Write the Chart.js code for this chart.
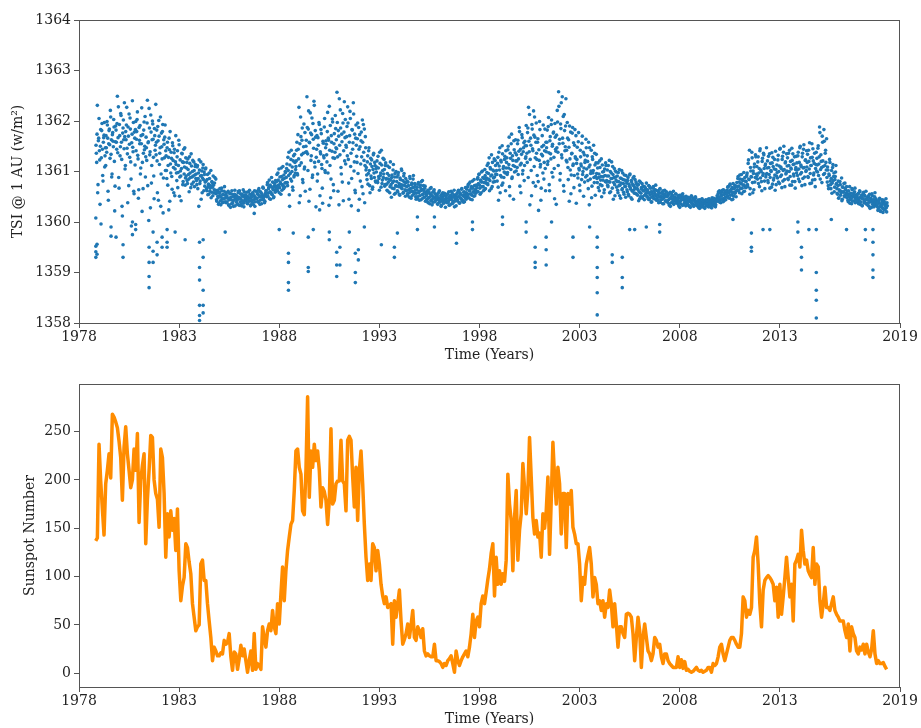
<!DOCTYPE html>
<html>
<head>
<meta charset="utf-8">
<script src="https://cdn.jsdelivr.net/npm/chart.js@4.4.1/dist/chart.umd.min.js"></script>
<style>
  html, body { margin: 0; padding: 0; background: #fff; }
  #wrap { position: relative; width: 921px; height: 728px; overflow: hidden; }
  canvas { position: absolute; left: 0; }
  #tsiChart { top: 0; }
  #sunChart { top: 364px; }
</style>
</head>
<body>
<div id="wrap">
  <canvas id="tsiChart" width="921" height="364"></canvas>
  <canvas id="sunChart" width="921" height="364"></canvas>
</div>
<script>
const xTicks = [1978, 1983, 1988, 1993, 1998, 2003, 2008, 2013, 2019];
const tsiTicks = [1358, 1359, 1360, 1361, 1362, 1363, 1364];
const sunTicks = [0, 50, 100, 150, 200, 250];

// TSI samples, one every 1/30 year from 1978.85 (second set offset by half a step)
const tsiStart = 1978.85;
const tsiStep = 1 / 30;
const tsi1978 = [
  1361.52,1361.18,1362.31,1360.74,1361.66,1361.41,1360.35,1361.83,1361.27,1361.95,1360.92,1361.58,1361.72,1361.09,1361.47,
  1361.71,1361.38,1361.92,1360.61,1361.55,1361.84,1361.26,1362.08,1361.63,1360.95,1361.77,1361.49,1361.88,1360.22,1361.59,
  1361.82,1361.44,1362.49,1361.67,1360.88,1361.93,1361.31,1362.15,1361.58,1360.31,1361.76,1362.02,1361.45,1361.69,1361.12,
  1361.63,1362.27,1361.35,1361.88,1360.72,1361.54,1362.06,1361.19,1359.92,1361.74,1361.48,1361.97,1360.56,1361.66,1361.83,
  1361.41,1361.79,1362.18,1361.25,1360.64,1361.62,1361.91,1361.07,1361.55,1360.21,1361.73,1361.36,1361.98,1361.50,1360.89,
  1361.68,1361.22,1362.41,1361.57,1360.03,1361.86,1361.39,1362.12,1360.77,1361.63,1361.94,1361.28,1360.46,1361.71,1361.52,
  1361.33,1361.82,1360.58,1361.61,1362.01,1361.14,1361.47,1360.31,1361.76,1361.25,1361.93,1360.87,1361.54,1361.68,1361.02,
  1361.31,1360.86,1361.58,1361.12,1360.24,1361.43,1361.79,1360.97,1361.26,1360.65,1361.51,1361.08,1361.37,1360.52,1361.19,
  1361.14,1360.82,1361.41,1360.98,1361.62,1360.51,1361.23,1360.91,1361.06,1361.35,1360.74,1361.18,1360.95,1361.47,1360.87,
  1360.91,1361.18,1360.76,1361.04,1360.85,1361.29,1360.97,1360.68,1361.11,1360.89,1361.22,1360.79,1361.02,1360.93,1361.14,
  1360.95,1360.74,1361.12,1360.86,1360.31,1361.03,1360.81,1361.19,1360.92,1360.58,1361.07,1360.84,1360.99,1360.71,1361.05,
  1360.81,1360.62,1360.94,1360.70,1360.55,1360.86,1360.67,1361.02,1360.59,1360.78,1360.52,1360.73,1360.64,1360.88,1360.57,
  1360.56,1360.41,1360.63,1360.48,1360.37,1360.59,1360.52,1360.34,1360.67,1360.45,1360.55,1360.39,1360.61,1360.47,1360.53,
  1360.38,1360.52,1360.47,1360.61,1360.33,1360.44,1360.57,1360.49,1360.36,1360.55,1360.42,1360.31,1360.50,1360.63,1360.46,
  1360.53,1360.44,1360.35,1360.58,1360.49,1360.62,1360.40,1360.46,1360.32,1360.55,1360.51,1360.37,1360.60,1360.43,1360.48,
  1360.45,1360.59,1360.36,1360.50,1360.42,1360.63,1360.47,1360.34,1360.54,1360.39,1360.57,1360.44,1360.52,1360.31,1360.48,
  1360.61,1360.47,1360.55,1360.39,1360.66,1360.50,1360.43,1360.58,1360.36,1360.53,1360.69,1360.45,1360.51,1360.41,1360.57,
  1360.62,1360.50,1360.78,1360.57,1360.69,1360.46,1360.73,1360.59,1360.88,1360.54,1360.66,1360.48,1360.71,1360.63,1360.82,
  1360.71,1360.94,1360.62,1360.83,1361.05,1360.68,1360.79,1360.55,1360.90,1360.74,1361.10,1360.66,1360.86,1360.77,1360.98,
  1360.88,1361.15,1360.72,1361.02,1361.38,1360.31,1360.96,1361.24,1360.81,1361.09,1360.63,1361.31,1360.92,1361.18,1361.04
];
const tsi1988 = [
  1361.21,1361.58,1360.93,1361.44,1362.27,1361.12,1360.52,1361.69,1361.33,1361.86,1360.78,1361.49,1361.05,1361.77,1361.38,
  1361.62,1362.48,1361.35,1361.84,1360.41,1361.57,1362.16,1361.22,1361.73,1360.88,1361.95,1361.46,1362.31,1361.09,1361.68,
  1361.28,1361.71,1360.95,1361.52,1361.97,1360.24,1361.39,1361.83,1361.14,1360.67,1361.60,1361.31,1361.88,1361.02,1361.47,
  1361.54,1361.19,1362.17,1361.66,1360.33,1361.42,1361.91,1360.85,1361.58,1362.04,1361.27,1360.62,1361.75,1361.38,1361.85,
  1361.63,1362.57,1361.29,1361.81,1360.34,1361.52,1362.22,1361.08,1361.74,1360.79,1361.96,1361.41,1362.38,1361.67,1361.15,
  1361.48,1361.89,1362.28,1361.24,1360.45,1361.71,1362.05,1361.36,1360.86,1361.82,1361.57,1362.14,1361.19,1360.63,1361.66,
  1361.52,1361.18,1361.96,1360.23,1361.44,1361.73,1360.81,1361.61,1361.29,1362.02,1360.56,1361.38,1361.84,1361.12,1361.47,
  1361.08,1360.84,1361.31,1360.96,1361.47,1360.72,1361.15,1360.91,1361.23,1360.65,1361.04,1361.36,1360.88,1361.12,1360.79,
  1360.99,1361.21,1360.78,1361.07,1360.86,1361.38,1360.92,1360.69,1361.13,1360.83,1361.26,1360.95,1361.04,1360.74,1361.17,
  1360.86,1360.63,1361.11,1360.79,1360.92,1360.58,1361.19,1360.74,1360.88,1360.67,1361.03,1360.81,1360.55,1360.96,1360.72,
  1360.71,1360.89,1360.60,1360.98,1360.76,1360.53,1360.84,1360.68,1361.02,1360.73,1360.57,1360.91,1360.79,1360.64,1360.86,
  1360.62,1360.81,1360.53,1360.72,1360.58,1360.90,1360.66,1360.47,1360.77,1360.61,1360.85,1360.55,1360.69,1360.74,1360.50,
  1360.57,1360.69,1360.46,1360.78,1360.61,1360.52,1360.73,1360.44,1360.65,1360.82,1360.55,1360.63,1360.49,1360.71,1360.59,
  1360.52,1360.41,1360.63,1360.47,1360.58,1360.36,1360.55,1360.68,1360.44,1360.51,1360.39,1360.61,1360.48,1360.56,1360.43,
  1360.44,1360.53,1360.35,1360.48,1360.60,1360.39,1360.46,1360.31,1360.55,1360.42,1360.50,1360.37,1360.57,1360.45,1360.40,
  1360.47,1360.38,1360.56,1360.42,1360.33,1360.51,1360.45,1360.61,1360.36,1360.49,1360.41,1360.54,1360.30,1360.46,1360.52,
  1360.48,1360.57,1360.41,1360.63,1360.50,1360.38,1360.55,1360.46,1360.66,1360.43,1360.52,1360.59,1360.40,1360.54,1360.47,
  1360.58,1360.49,1360.70,1360.55,1360.76,1360.62,1360.45,1360.67,1360.53,1360.81,1360.60,1360.51,1360.72,1360.64,1360.57,
  1360.72,1360.61,1360.88,1360.76,1360.95,1360.67,1360.83,1360.58,1360.79,1361.01,1360.70,1360.86,1360.64,1360.92,1360.77,
  1360.87,1361.12,1360.74,1360.96,1361.27,1360.82,1361.05,1360.66,1360.93,1361.18,1360.79,1361.01,1360.89,1361.22,1360.95
];
const tsi1998 = [
  1361.02,1360.81,1361.28,1360.43,1361.11,1361.47,1360.92,1361.19,1360.73,1361.35,1361.06,1360.88,1361.24,1360.97,1361.41,
  1361.18,1360.94,1361.43,1361.07,1361.68,1360.52,1361.26,1361.55,1360.86,1361.31,1361.12,1361.61,1360.99,1361.37,1361.21,
  1361.33,1361.08,1361.62,1361.25,1361.87,1360.71,1361.44,1361.16,1361.73,1360.95,1361.39,1361.57,1361.12,1361.51,1361.29,
  1361.51,1361.18,1361.86,1362.27,1361.39,1360.34,1361.66,1361.02,1361.93,1361.45,1360.78,1361.72,1362.08,1361.27,1361.58,
  1361.36,1360.92,1361.65,1360.23,1361.22,1361.83,1361.14,1360.67,1361.49,1361.31,1361.92,1360.85,1361.41,1361.06,1361.58,
  1361.47,1361.82,1361.20,1362.07,1360.74,1361.61,1361.35,1361.93,1360.98,1361.54,1361.76,1361.28,1360.46,1361.68,1361.40,
  1361.72,1362.21,1361.38,1362.58,1361.55,1360.83,1361.94,1362.36,1361.27,1361.66,1362.09,1360.61,1361.81,1361.49,1362.44,
  1361.42,1361.97,1361.08,1361.63,1360.41,1361.25,1361.78,1360.93,1361.36,1361.87,1361.15,1360.68,1361.52,1361.29,1361.71,
  1361.16,1361.48,1360.87,1361.77,1361.03,1360.62,1361.29,1361.11,1361.56,1360.94,1361.38,1361.07,1360.79,1361.22,1361.64,
  1361.05,1361.31,1360.82,1361.58,1360.34,1361.13,1360.96,1361.42,1360.71,1361.24,1361.02,1360.88,1361.36,1360.53,1361.17,
  1360.96,1360.78,1361.17,1360.88,1360.62,1361.08,1360.83,1361.25,1360.72,1360.99,1360.90,1360.58,1361.05,1360.80,1361.12,
  1360.82,1361.03,1360.70,1360.91,1361.22,1360.79,1360.60,1360.97,1360.86,1361.10,1360.45,1360.88,1360.74,1361.01,1360.83,
  1360.69,1360.91,1360.58,1360.80,1361.04,1360.73,1360.47,1360.86,1360.64,1360.97,1360.76,1360.55,1360.83,1360.70,1360.92,
  1360.77,1360.60,1360.88,1360.52,1360.71,1360.95,1360.65,1360.82,1360.45,1360.74,1360.63,1360.90,1360.68,1360.57,1360.79,
  1360.55,1360.73,1360.64,1360.42,1360.81,1360.59,1360.50,1360.68,1360.76,1360.47,1360.62,1360.70,1360.53,1360.66,1360.58,
  1360.63,1360.49,1360.58,1360.72,1360.44,1360.54,1360.67,1360.39,1360.60,1360.51,1360.70,1360.46,1360.57,1360.64,1360.52,
  1360.47,1360.62,1360.53,1360.38,1360.57,1360.66,1360.44,1360.50,1360.59,1360.36,1360.55,1360.48,1360.63,1360.42,1360.52,
  1360.50,1360.40,1360.56,1360.44,1360.33,1360.59,1360.47,1360.38,1360.53,1360.45,1360.61,1360.36,1360.49,1360.42,1360.55,
  1360.39,1360.48,1360.44,1360.32,1360.53,1360.41,1360.36,1360.50,1360.45,1360.56,1360.34,1360.43,1360.47,1360.38,1360.51,
  1360.44,1360.36,1360.49,1360.41,1360.31,1360.46,1360.39,1360.52,1360.35,1360.43,1360.47,1360.33,1360.42,1360.50,1360.38
];
const tsi2008 = [
  1360.33,1360.41,1360.37,1360.28,1360.44,1360.35,1360.30,1360.39,1360.46,1360.32,1360.36,1360.42,1360.27,1360.38,1360.34,
  1360.40,1360.34,1360.45,1360.31,1360.38,1360.43,1360.29,1360.36,1360.48,1360.39,1360.33,1360.42,1360.37,1360.30,1360.44,
  1360.47,1360.41,1360.56,1360.50,1360.62,1360.44,1360.38,1360.53,1360.59,1360.46,1360.64,1360.42,1360.55,1360.49,1360.58,
  1360.63,1360.52,1360.70,1360.58,1360.47,1360.75,1360.61,1360.54,1360.68,1360.45,1360.66,1360.57,1360.72,1360.60,1360.50,
  1360.78,1360.64,1360.90,1360.71,1360.58,1360.85,1360.76,1360.94,1360.67,1360.82,1360.60,1360.73,1360.88,1360.69,1360.80,
  1360.93,1360.74,1361.16,1360.85,1361.42,1360.66,1361.01,1360.89,1361.27,1360.58,1360.96,1361.09,1360.79,1361.33,1360.87,
  1361.10,1360.85,1361.29,1360.97,1360.70,1361.45,1361.03,1360.80,1361.20,1360.92,1361.36,1361.06,1360.66,1361.15,1360.94,
  1360.96,1361.21,1360.78,1361.08,1361.35,1360.88,1361.02,1360.69,1361.17,1361.28,1360.83,1361.05,1360.93,1361.40,1360.74,
  1361.13,1360.87,1361.32,1361.00,1360.76,1361.46,1361.09,1360.93,1361.24,1360.81,1361.38,1361.04,1360.70,1361.19,1360.97,
  1361.01,1361.27,1360.84,1361.12,1361.42,1360.90,1361.07,1360.73,1361.22,1361.35,1360.95,1361.15,1360.80,1361.04,1361.30,
  1361.17,1360.92,1361.38,1361.05,1360.80,1361.50,1361.13,1360.98,1361.29,1360.86,1361.44,1361.08,1360.74,1361.23,1361.02,
  1361.09,1361.34,1360.88,1361.20,1361.57,1360.96,1361.12,1360.77,1361.28,1361.45,1360.93,1361.16,1360.84,1361.06,1361.38,
  1361.26,1360.99,1361.51,1361.15,1361.88,1360.85,1361.33,1361.08,1361.70,1361.21,1360.94,1361.60,1361.12,1361.42,1361.03,
  1360.88,1361.09,1360.72,1360.95,1361.24,1360.81,1360.66,1361.02,1360.77,1361.14,1360.90,1360.60,1360.84,1360.99,1360.75,
  1360.66,1360.55,1360.81,1360.48,1360.62,1360.74,1360.58,1360.87,1360.45,1360.69,1360.60,1360.52,1360.77,1360.64,1360.57,
  1360.48,1360.61,1360.40,1360.55,1360.70,1360.44,1360.52,1360.36,1360.64,1360.50,1360.57,1360.42,1360.67,1360.47,1360.54,
  1360.50,1360.39,1360.57,1360.44,1360.62,1360.35,1360.48,1360.53,1360.32,1360.46,1360.59,1360.41,1360.51,1360.37,1360.45,
  1360.37,1360.49,1360.43,1360.31,1360.55,1360.40,1360.46,1360.29,1360.52,1360.38,1360.44,1360.34,1360.58,1360.41,1360.36,
  1360.31,1360.42,1360.26,1360.37,1360.47,1360.22,1360.34,1360.29,1360.44,1360.19,1360.36,1360.40,1360.24,1360.33,1360.28,1360.38
];
const tsi1978b = [
  1361.36,1361.74,1360.58,1361.61,1362.05,1361.23,1361.50,1359.96,1361.81,1361.44,1360.81,1361.67,1361.97,1361.31,1361.12,
  1361.47,1361.99,1361.66,1360.43,1361.81,1361.53,1362.21,1361.34,1360.89,1361.73,1361.60,1362.03,1361.20,1360.71,1361.90,
  1361.58,1361.95,1361.37,1362.28,1360.67,1361.71,1361.49,1362.11,1361.24,1360.12,1361.86,1361.63,1362.36,1361.05,1361.79,
  1361.92,1361.46,1360.38,1361.70,1362.14,1361.28,1361.84,1360.85,1361.57,1362.40,1361.39,1360.61,1361.78,1361.13,1361.99,
  1361.64,1362.03,1361.32,1360.47,1361.87,1361.55,1360.95,1361.71,1362.26,1361.18,1360.66,1361.82,1361.43,1362.09,1361.29,
  1361.47,1361.96,1360.72,1361.59,1362.25,1361.33,1360.28,1361.78,1361.12,1362.00,1361.64,1360.91,1361.85,1361.42,1362.33,
  1361.58,1361.21,1361.89,1360.43,1361.70,1361.36,1362.08,1360.95,1361.49,1361.79,1360.18,1361.63,1361.27,1361.92,1361.41,
  1361.02,1361.47,1360.73,1361.28,1361.66,1360.41,1361.15,1361.38,1360.90,1361.57,1361.22,1360.58,1361.44,1361.05,1361.71,
  1360.97,1361.29,1360.68,1361.12,1361.53,1360.89,1361.01,1360.42,1361.36,1361.19,1360.80,1361.44,1361.09,1360.73,1361.27,
  1361.07,1360.82,1361.25,1360.94,1360.60,1361.16,1360.88,1361.35,1360.75,1361.00,1360.91,1361.19,1360.70,1361.10,1360.86,
  1360.82,1361.09,1360.66,1360.97,1361.23,1360.76,1360.91,1360.45,1361.01,1360.87,1361.14,1360.62,1360.94,1360.79,1361.07,
  1360.66,1360.84,1360.54,1360.75,1360.97,1360.61,1360.72,1360.48,1360.80,1360.69,1360.91,1360.58,1360.77,1360.63,1360.85,
  1360.44,1360.60,1360.51,1360.35,1360.57,1360.66,1360.42,1360.49,1360.62,1360.38,1360.54,1360.46,1360.70,1360.40,1360.58,
  1360.51,1360.40,1360.59,1360.34,1360.47,1360.56,1360.29,1360.44,1360.62,1360.37,1360.50,1360.43,1360.55,1360.32,1360.48,
  1360.39,1360.50,1360.45,1360.61,1360.33,1360.47,1360.56,1360.36,1360.52,1360.42,1360.64,1360.30,1360.49,1360.54,1360.41,
  1360.52,1360.37,1360.46,1360.60,1360.41,1360.55,1360.32,1360.49,1360.43,1360.58,1360.35,1360.51,1360.62,1360.40,1360.47,
  1360.46,1360.58,1360.41,1360.63,1360.52,1360.35,1360.60,1360.49,1360.56,1360.44,1360.67,1360.50,1360.38,1360.54,1360.62,
  1360.57,1360.74,1360.51,1360.66,1360.83,1360.60,1360.45,1360.70,1360.55,1360.79,1360.64,1360.50,1360.76,1360.59,1360.68,
  1360.80,1360.66,1360.97,1360.73,1360.58,1360.89,1360.76,1361.07,1360.63,1360.84,1360.71,1360.93,1360.69,1361.00,1360.78,
  1361.06,1360.78,1361.28,1360.92,1360.54,1361.13,1360.85,1361.42,1361.00,1360.69,1361.21,1360.89,1361.34,1360.97,1361.10
];
const tsi1988b = [
  1361.42,1360.96,1361.73,1361.25,1360.38,1361.55,1362.08,1361.17,1361.62,1360.84,1361.36,1361.94,1361.09,1360.61,1361.50,
  1361.39,1361.87,1361.02,1362.20,1361.58,1360.65,1361.76,1361.31,1362.06,1360.93,1361.64,1362.39,1361.18,1361.81,1360.30,
  1361.44,1360.81,1361.67,1361.20,1361.93,1360.52,1361.35,1361.75,1361.06,1360.37,1361.56,1361.27,1362.05,1360.98,1361.61,
  1361.33,1361.79,1360.97,1361.62,1362.29,1361.12,1360.48,1361.71,1361.40,1361.98,1360.74,1361.55,1361.26,1362.11,1361.47,
  1361.45,1361.97,1360.61,1361.70,1362.44,1361.33,1361.86,1360.95,1361.59,1362.15,1360.42,1361.78,1361.21,1362.03,1361.52,
  1361.69,1361.31,1361.96,1360.77,1361.58,1362.19,1361.10,1360.32,1361.83,1361.44,1362.36,1361.01,1361.74,1360.58,1361.92,
  1361.30,1361.65,1360.96,1361.87,1360.45,1361.49,1361.15,1361.78,1360.70,1361.58,1361.93,1361.22,1360.38,1361.69,1361.03,
  1360.93,1361.19,1360.75,1361.41,1361.02,1360.58,1361.26,1360.86,1361.10,1360.69,1361.33,1360.97,1361.18,1360.81,1361.06,
  1361.09,1360.81,1361.30,1360.90,1360.63,1361.16,1360.97,1361.42,1360.76,1361.02,1360.88,1361.24,1360.71,1361.12,1360.85,
  1360.75,1360.96,1360.61,1360.85,1361.08,1360.70,1360.83,1360.49,1360.93,1360.78,1361.14,1360.66,1360.89,1360.57,1361.00,
  1360.80,1360.62,1360.93,1360.70,1360.55,1360.87,1360.74,1361.05,1360.66,1360.82,1360.59,1360.96,1360.72,1360.51,1360.78,
  1360.70,1360.56,1360.79,1360.64,1360.49,1360.86,1360.60,1360.74,1360.52,1360.68,1360.92,1360.58,1360.76,1360.63,1360.45,
  1360.64,1360.50,1360.75,1360.58,1360.43,1360.69,1360.62,1360.80,1360.54,1360.47,1360.72,1360.60,1360.67,1360.41,1360.56,
  1360.45,1360.57,1360.38,1360.60,1360.49,1360.66,1360.42,1360.53,1360.34,1360.59,1360.47,1360.64,1360.40,1360.55,1360.50,
  1360.49,1360.36,1360.57,1360.43,1360.62,1360.40,1360.52,1360.33,1360.47,1360.58,1360.38,1360.54,1360.44,1360.29,1360.51,
  1360.42,1360.55,1360.39,1360.60,1360.47,1360.34,1360.53,1360.44,1360.58,1360.37,1360.50,1360.63,1360.41,1360.48,1360.32,
  1360.55,1360.44,1360.61,1360.50,1360.37,1360.58,1360.47,1360.65,1360.42,1360.53,1360.39,1360.60,1360.49,1360.68,1360.45,
  1360.65,1360.53,1360.74,1360.48,1360.62,1360.79,1360.56,1360.70,1360.44,1360.67,1360.59,1360.84,1360.52,1360.63,1360.73,
  1360.68,1360.85,1360.60,1360.94,1360.73,1360.55,1360.81,1360.99,1360.70,1360.88,1360.62,1360.78,1361.04,1360.66,1360.83,
  1360.98,1360.76,1361.16,1360.85,1360.62,1361.08,1360.91,1361.33,1360.70,1361.03,1360.87,1361.25,1360.80,1361.12,1360.94
];
const tsi1998b = [
  1360.94,1361.16,1360.69,1361.38,1361.03,1360.58,1361.22,1360.89,1361.51,1360.77,1361.10,1360.99,1361.30,1360.62,1361.07,
  1361.27,1360.98,1361.50,1361.14,1360.70,1361.36,1361.04,1361.74,1360.89,1361.22,1360.45,1361.43,1361.10,1361.63,1361.01,
  1361.21,1361.55,1360.94,1361.40,1361.79,1361.13,1360.58,1361.34,1361.67,1361.02,1361.47,1360.82,1361.60,1361.26,1361.91,
  1361.36,1361.77,1360.88,1361.60,1362.13,1361.24,1361.52,1360.52,1361.84,1361.41,1362.20,1361.10,1361.68,1360.71,1361.96,
  1361.24,1361.58,1360.80,1361.43,1361.99,1361.09,1360.43,1361.34,1361.71,1360.97,1361.52,1361.18,1361.84,1360.62,1361.39,
  1361.58,1361.14,1361.89,1361.37,1360.62,1361.69,1361.25,1362.02,1361.50,1360.89,1361.78,1361.06,1361.95,1361.44,1360.35,
  1361.47,1361.98,1361.12,1362.29,1361.64,1360.96,1361.85,1361.33,1362.48,1361.56,1360.72,1362.13,1361.41,1361.90,1361.22,
  1361.19,1361.66,1360.84,1361.48,1361.90,1361.03,1360.56,1361.35,1361.76,1361.12,1361.57,1360.92,1361.83,1361.26,1360.37,
  1361.24,1360.95,1361.59,1361.06,1360.73,1361.42,1361.15,1360.84,1361.70,1361.00,1360.51,1361.33,1361.18,1360.89,1361.47,
  1360.92,1361.20,1360.66,1361.09,1361.47,1360.85,1361.01,1360.48,1361.29,1360.97,1361.52,1360.78,1361.13,1360.90,1361.34,
  1360.86,1361.07,1360.68,1360.95,1361.21,1360.74,1360.90,1360.50,1361.13,1360.83,1361.00,1360.64,1360.92,1361.17,1360.79,
  1360.91,1360.73,1361.12,1360.80,1360.58,1361.00,1360.86,1361.19,1360.67,1360.94,1360.78,1361.06,1360.52,1360.89,1360.99,
  1360.80,1360.63,1360.98,1360.72,1360.52,1360.87,1360.77,1361.02,1360.66,1360.84,1360.59,1360.93,1360.71,1360.49,1360.82,
  1360.64,1360.82,1360.55,1360.75,1360.93,1360.68,1360.48,1360.79,1360.61,1360.87,1360.72,1360.57,1360.84,1360.66,1360.76,
  1360.67,1360.53,1360.74,1360.60,1360.46,1360.79,1360.57,1360.65,1360.50,1360.71,1360.62,1360.44,1360.69,1360.55,1360.77,
  1360.51,1360.64,1360.45,1360.58,1360.70,1360.48,1360.60,1360.40,1360.56,1360.67,1360.47,1360.62,1360.53,1360.73,1360.43,
  1360.54,1360.43,1360.60,1360.49,1360.65,1360.39,1360.52,1360.58,1360.45,1360.62,1360.36,1360.51,1360.56,1360.41,1360.60,
  1360.42,1360.51,1360.37,1360.55,1360.46,1360.31,1360.49,1360.58,1360.40,1360.52,1360.35,1360.47,1360.43,1360.56,1360.38,
  1360.46,1360.36,1360.51,1360.40,1360.29,1360.48,1360.43,1360.54,1360.33,1360.45,1360.50,1360.38,1360.47,1360.32,1360.42,
  1360.37,1360.45,1360.33,1360.48,1360.42,1360.29,1360.40,1360.50,1360.36,1360.44,1360.31,1360.46,1360.39,1360.47,1360.34
];
const tsi2008b = [
  1360.38,1360.31,1360.43,1360.35,1360.27,1360.40,1360.34,1360.45,1360.30,1360.37,1360.42,1360.29,1360.36,1360.44,1360.32,
  1360.35,1360.42,1360.30,1360.46,1360.38,1360.33,1360.41,1360.28,1360.44,1360.36,1360.47,1360.32,1360.39,1360.34,1360.43,
  1360.52,1360.43,1360.60,1360.48,1360.39,1360.57,1360.51,1360.45,1360.63,1360.40,1360.54,1360.47,1360.59,1360.44,1360.61,
  1360.56,1360.69,1360.48,1360.62,1360.73,1360.53,1360.65,1360.44,1360.59,1360.76,1360.51,1360.67,1360.57,1360.71,1360.62,
  1360.70,1360.86,1360.62,1360.79,1360.93,1360.66,1360.77,1360.56,1360.84,1360.73,1360.98,1360.61,1360.81,1360.68,1360.90,
  1360.97,1360.70,1361.23,1360.84,1360.55,1361.08,1360.90,1361.38,1360.78,1361.01,1360.64,1361.15,1360.88,1361.29,1360.95,
  1360.92,1361.19,1360.76,1361.06,1361.41,1360.87,1361.00,1360.62,1361.26,1360.96,1361.33,1360.81,1361.12,1360.89,1361.47,
  1361.07,1360.82,1361.30,1360.94,1360.67,1361.16,1361.00,1361.37,1360.75,1361.10,1360.87,1361.24,1360.63,1361.04,1360.91,
  1360.98,1361.23,1360.79,1361.11,1361.44,1360.90,1361.06,1360.68,1361.30,1361.02,1361.50,1360.84,1361.17,1360.95,1361.35,
  1361.11,1360.86,1361.36,1361.00,1360.73,1361.20,1361.05,1361.46,1360.80,1361.14,1360.91,1361.29,1360.67,1361.08,1360.97,
  1361.03,1361.31,1360.85,1361.18,1361.47,1360.95,1361.10,1360.72,1361.36,1361.07,1361.53,1360.89,1361.22,1361.00,1361.41,
  1361.18,1360.90,1361.42,1361.05,1360.76,1361.27,1361.12,1361.55,1360.83,1361.21,1360.97,1361.36,1360.70,1361.14,1361.01,
  1361.13,1361.46,1360.92,1361.29,1361.77,1361.04,1361.20,1360.78,1361.58,1361.10,1361.83,1360.96,1361.36,1361.18,1361.65,
  1360.79,1361.03,1360.66,1360.92,1361.18,1360.74,1360.86,1360.57,1361.08,1360.82,1360.97,1360.69,1360.90,1361.12,1360.76,
  1360.57,1360.72,1360.47,1360.64,1360.80,1360.53,1360.61,1360.42,1360.69,1360.59,1360.76,1360.50,1360.66,1360.55,1360.70,
  1360.53,1360.43,1360.62,1360.49,1360.37,1360.57,1360.46,1360.66,1360.41,1360.55,1360.50,1360.60,1360.38,1360.52,1360.45,
  1360.42,1360.55,1360.36,1360.48,1360.60,1360.40,1360.51,1360.33,1360.46,1360.57,1360.38,1360.53,1360.44,1360.61,1360.35,
  1360.45,1360.33,1360.52,1360.39,1360.27,1360.47,1360.41,1360.56,1360.35,1360.43,1360.30,1360.50,1360.38,1360.46,1360.32,
  1360.36,1360.23,1360.41,1360.30,1360.45,1360.21,1360.33,1360.39,1360.27,1360.43,1360.25,1360.35,1360.31,1360.46,1360.20,1360.32
];

// low-irradiance days (sunspot passages)
const dipYears = [
  1978.84,1978.84,1978.84,1978.84,1978.90,1978.90,1979.60,1979.60,1979.85,1980.20,1980.20,1980.67,1980.67,1980.83,1980.83,
  1981.50,1981.50,1981.50,1981.50,1981.70,1981.70,1981.70,1981.90,1981.90,1982.15,1982.15,1982.40,1982.40,1982.40,1982.80,1983.30,
  1984.02,1984.02,1984.02,1984.02,1984.02,1984.02,1984.20,1984.20,1984.20,1984.20,1984.20,1985.30,1986.75,1988.00,
  1988.46,1988.46,1988.46,1988.46,1988.70,1989.45,1989.45,1989.45,1989.70,1990.50,1990.50,1990.87,1990.87,1990.87,
  1991.03,1991.03,1991.50,1991.80,1991.80,1991.80,1991.95,1991.95,1992.25,1993.10,1993.75,1993.75,1993.90,
  1994.90,1994.90,1995.75,1995.75,1996.85,1996.85,1997.65,1997.65,
  1999.15,1999.15,2000.33,2000.33,2000.78,2000.78,2000.78,2001.33,2001.33,2001.33,2001.60,2002.67,2002.67,2003.50,
  2003.88,2003.88,2003.88,2003.88,2003.88,2003.88,2004.63,2004.63,2005.13,2005.13,2005.13,2005.50,2005.75,2006.33,2007.00,2007.00,
  2010.66,2011.58,2011.58,2011.58,2012.16,2012.50,2013.90,2013.90,2014.08,2014.08,2014.08,2014.45,
  2014.82,2014.82,2014.82,2014.82,2014.82,2015.57,2016.33,2017.27,2017.27,2017.65,2017.65,2017.65,2017.65,2017.65
];
const dipValues = [
  1359.52,1359.41,1359.30,1360.08,1359.56,1359.36,1359.90,1359.72,1359.70,1359.55,1359.30,1360.00,1359.75,1359.95,1359.85,
  1359.50,1359.20,1358.92,1358.70,1359.80,1359.42,1359.20,1359.60,1359.35,1359.70,1359.50,1359.85,1359.60,1359.50,1359.80,1359.65,
  1359.60,1359.10,1358.85,1358.35,1358.15,1358.05,1359.65,1359.30,1358.65,1358.35,1358.20,1359.80,1360.17,1359.85,
  1359.38,1359.20,1358.80,1358.65,1359.78,1359.70,1359.10,1359.02,1359.85,1359.80,1359.65,1359.40,1359.15,1358.92,
  1359.50,1359.15,1359.80,1359.38,1359.00,1358.80,1359.45,1359.25,1359.90,1359.55,1359.50,1359.30,1359.78,
  1360.10,1359.85,1360.10,1359.90,1359.78,1359.58,1360.00,1359.85,
  1360.10,1359.95,1360.00,1359.80,1359.50,1359.20,1359.10,1359.70,1359.45,1359.15,1360.00,1359.70,1359.30,1359.90,
  1359.70,1359.50,1359.10,1358.90,1358.60,1358.16,1359.35,1359.20,1359.30,1358.90,1358.70,1359.85,1359.85,1359.90,1359.95,1359.80,
  1360.05,1359.78,1359.50,1359.42,1359.85,1359.85,1360.00,1359.80,1359.50,1359.30,1359.05,1359.85,
  1359.85,1359.00,1358.65,1358.45,1358.10,1360.05,1359.85,1359.85,1359.65,1359.85,1359.60,1359.35,1359.05,1358.90
];

// monthly sunspot number, from Nov 1978
const sunStartYear = 1978;
const sunStartMonth = 10;
const sunspotMonthly = [
  137, 140,
  237, 199, 170, 143, 196, 210, 227, 202, 268, 265, 260, 254,
  240, 223, 179, 234, 255, 227, 210, 192, 200, 232, 210, 248,
  156, 199, 215, 227, 134, 180, 210, 246, 244, 200, 186, 180,
  151, 232, 223, 186, 120, 165, 141, 168, 148, 160, 127, 170,
  106, 75, 90, 99, 134, 130, 115, 103, 72, 58, 44, 48,
  50, 113, 117, 96, 96, 72, 54, 37, 13, 27, 23, 18,
  18, 21, 20, 34, 30, 32, 41, 17, 3, 22, 20, 4,
  15, 29, 18, 25, 13, 1, 13, 23, 3, 41, 4, 10,
  8, 4, 48, 37, 27, 44, 51, 44, 65, 48, 41, 72,
  51, 82, 110, 75, 106, 127, 141, 154, 158, 189, 230, 232,
  213, 206, 168, 164, 210, 286, 182, 230, 213, 237, 220, 230,
  210, 172, 192, 188, 179, 154, 179, 253, 175, 179, 196, 199,
  199, 241, 199, 196, 168, 241, 245, 241, 203, 172, 213, 158,
  210, 230, 196, 154, 120, 96, 113, 96, 134, 130, 106, 127,
  113, 92, 80, 72, 79, 68, 70, 72, 30, 75, 58, 72,
  86, 54, 30, 35, 41, 51, 37, 50, 65, 37, 34, 48,
  44, 37, 46, 23, 18, 20, 18, 17, 17, 30, 13, 13,
  12, 10, 6, 10, 8, 13, 15, 18, 10, 1, 23, 13,
  8, 13, 17, 20, 23, 17, 27, 41, 61, 37, 54, 58,
  48, 72, 80, 72, 84, 97, 108, 124, 134, 80, 120, 92,
  106, 92, 103, 95, 117, 206, 175, 158, 106, 161, 189, 117,
  148, 165, 217, 192, 165, 189, 244, 203, 161, 144, 158, 141,
  145, 120, 165, 150, 168, 203, 123, 179, 239, 203, 175, 213,
  196, 144, 186, 186, 130, 186, 175, 189, 151, 144, 134, 134,
  113, 75, 99, 92, 113, 122, 130, 113, 79, 99, 92, 72,
  75, 65, 75, 58, 72, 68, 86, 72, 48, 72, 51, 27,
  48, 48, 41, 37, 61, 62, 61, 58, 41, 13, 37, 58,
  44, 6, 37, 51, 37, 23, 20, 13, 20, 37, 34, 27,
  30, 17, 10, 20, 20, 13, 10, 8, 6, 6, 6, 17,
  6, 14, 5, 12, 3, 4, 2, 1, 2, 4, 6, 3,
  2, 3, 1, 2, 3, 6, 6, 1, 10, 8, 10, 17,
  27, 30, 20, 13, 20, 27, 34, 37, 37, 34, 30, 27,
  27, 41, 79, 75, 58, 65, 61, 68, 120, 127, 141, 113,
  72, 48, 86, 96, 99, 101, 99, 96, 92, 75, 89, 58,
  92, 61, 79, 99, 120, 99, 79, 92, 54, 113, 117, 123,
  110, 148, 127, 113, 117, 106, 102, 99, 130, 92, 113, 110,
  75, 58, 72, 89, 68, 68, 65, 72, 79, 65, 61, 58,
  54, 54, 54, 44, 37, 51, 23, 48, 41, 37, 23, 20,
  27, 24, 30, 20, 30, 22, 17, 25, 44, 20, 10, 13,
  10, 10, 11, 7, 4
];

const axisFont = { family: 'DejaVu Serif', size: 14 };
const textColor = '#222';
const frameColor = '#555';

const framePlugin = {
  id: 'frame',
  afterDraw(chart) {
    const { ctx, chartArea: a } = chart;
    ctx.save();
    ctx.strokeStyle = frameColor;
    ctx.lineWidth = 1;
    ctx.strokeRect(Math.round(a.left) + 0.5, Math.round(a.top) + 0.5,
      Math.round(a.right - a.left) - 1, Math.round(a.bottom - a.top));
    ctx.restore();
  }
};

function tsiPoints() {
  const first = tsi1978.concat(tsi1988, tsi1998, tsi2008);
  const second = tsi1978b.concat(tsi1988b, tsi1998b, tsi2008b);
  const pts = first.map((v, i) => ({ x: tsiStart + i * tsiStep, y: v }));
  second.forEach((v, i) => pts.push({ x: tsiStart + (i + 0.5) * tsiStep, y: v }));
  dipYears.forEach((yr, i) => pts.push({ x: yr, y: dipValues[i] }));
  return pts;
}

function sunPoints() {
  return sunspotMonthly.map((v, i) => ({ x: sunStartYear + (sunStartMonth + i) / 12, y: v }));
}

function xAxis() {
  return {
    type: 'linear',
    min: 1978,
    max: 2019,
    afterBuildTicks: axis => { axis.ticks = xTicks.map(v => ({ value: v })); },
    afterFit: axis => { axis.height = 41; },
    grid: { drawOnChartArea: false, drawTicks: true, tickLength: 5, color: frameColor },
    border: { display: false },
    ticks: { font: axisFont, color: textColor, padding: 1, autoSkip: false, maxRotation: 0, callback: v => String(v) },
    title: { display: true, text: 'Time (Years)', font: axisFont, color: textColor, padding: { top: 0, bottom: 0 } }
  };
}

function yAxis(min, max, ticks, title, titleOffset) {
  return {
    type: 'linear',
    min: min,
    max: max,
    afterBuildTicks: axis => { axis.ticks = ticks.map(v => ({ value: v })); },
    afterFit: axis => { axis.width = 79; },
    grid: { drawOnChartArea: false, drawTicks: true, tickLength: 5, color: frameColor },
    border: { display: false },
    ticks: { font: axisFont, color: textColor, padding: 3, callback: v => String(v) },
    title: { display: true, text: title, font: axisFont, color: textColor, padding: { top: titleOffset, bottom: 0 } }
  };
}

function createTsiChart(ctx) {
  return new Chart(ctx, {
    type: 'scatter',
    data: {
      datasets: [{
        data: tsiPoints(),
        backgroundColor: '#1f77b4',
        borderWidth: 0,
        pointRadius: 1.8
      }]
    },
    options: {
      responsive: false,
      animation: false,
      devicePixelRatio: 1,
      layout: { padding: { left: 0, right: 21, top: 20, bottom: 0 } },
      scales: {
        x: xAxis(),
        y: yAxis(1358, 1364, tsiTicks, 'TSI @ 1 AU (w/m\u00b2)', 9.5)
      },
      plugins: { legend: { display: false }, tooltip: { enabled: false } }
    },
    plugins: [framePlugin]
  });
}

function createSunChart(ctx) {
  return new Chart(ctx, {
    type: 'line',
    data: {
      datasets: [{
        data: sunPoints(),
        borderColor: '#ff8c00',
        borderWidth: 3.5,
        borderJoinStyle: 'round',
        pointRadius: 0,
        tension: 0,
        fill: false
      }]
    },
    options: {
      responsive: false,
      animation: false,
      devicePixelRatio: 1,
      layout: { padding: { left: 0, right: 21, top: 20, bottom: 0 } },
      scales: {
        x: xAxis(),
        y: yAxis(-14.25, 299.25, sunTicks, 'Sunspot Number', 21.5)
      },
      plugins: { legend: { display: false }, tooltip: { enabled: false } }
    },
    plugins: [framePlugin]
  });
}

document.addEventListener('DOMContentLoaded', () => {
  createTsiChart(document.getElementById('tsiChart').getContext('2d'));
  createSunChart(document.getElementById('sunChart').getContext('2d'));
});
</script>
</body>
</html>
